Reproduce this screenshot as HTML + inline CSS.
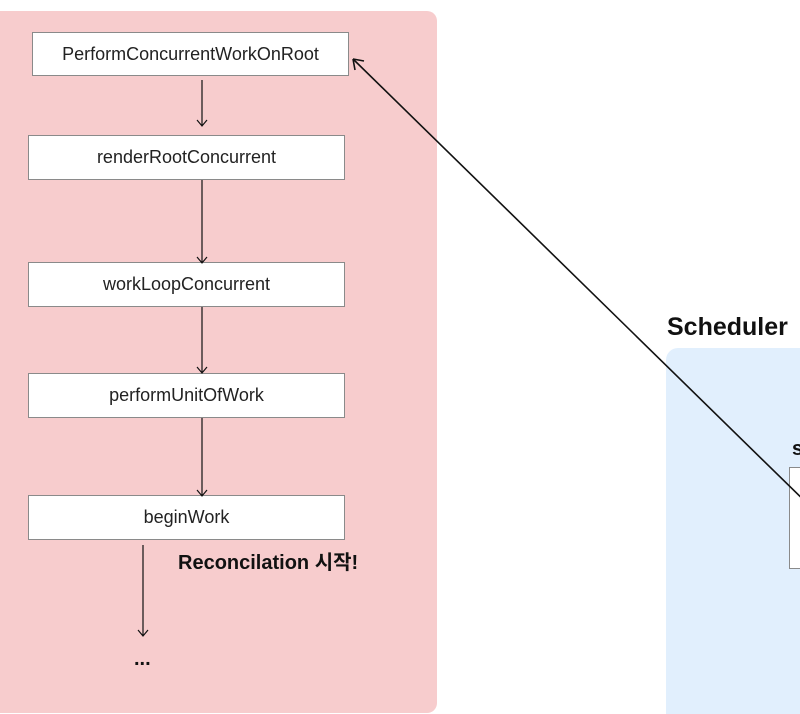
<!DOCTYPE html>
<html style="overflow:hidden;height:714px"><head><style>
body{margin:0;width:800px;height:714px;overflow:hidden;background:#fff;font-family:"Liberation Sans","Noto Sans CJK KR",sans-serif;position:relative}
.p{position:absolute}
.box{position:absolute;background:#fff;border:1px solid #8a8a8a;box-sizing:border-box;display:flex;align-items:center;justify-content:center;font-size:18px;color:#222}
</style></head><body>
<div class="p" style="left:-10px;top:11px;width:447px;height:702px;background:#f7cccd;border-radius:10px"></div>
<div class="p" style="left:666px;top:348px;width:160px;height:366px;background:#e1effd;border-radius:12px 12px 0 0"></div>
<div class="p" style="left:667px;top:313px;font-size:25px;font-weight:bold;color:#111">Scheduler</div>
<div class="p" style="left:792px;top:438px;font-size:20px;font-weight:bold;color:#111">s</div>
<div class="box" style="left:789px;top:467px;width:30px;height:102px"></div>
<div class="box" style="left:32px;top:32px;width:317px;height:44px">PerformConcurrentWorkOnRoot</div>
<div class="box" style="left:28px;top:135px;width:317px;height:45px">renderRootConcurrent</div>
<div class="box" style="left:28px;top:262px;width:317px;height:45px">workLoopConcurrent</div>
<div class="box" style="left:28px;top:373px;width:317px;height:45px">performUnitOfWork</div>
<div class="box" style="left:28px;top:495px;width:317px;height:45px">beginWork</div>
<div class="p" style="left:178px;top:546px;font-size:20px;font-weight:bold;color:#111">Reconcilation 시작!</div>
<div class="p" style="left:134px;top:648px;font-size:20px;font-weight:bold;color:#111">...</div>
<svg class="p" style="left:0;top:0" width="800" height="714">
<g stroke="#111" stroke-width="1.2" fill="none">
<path d="M202 80V125M197 120L202 126L207 120"/>
<path d="M202 180V262M197 257L202 263L207 257"/>
<path d="M202 307V372M197 367L202 373L207 367"/>
<path d="M202 418V495M197 490L202 496L207 490"/>
<path d="M143 545V635M138 630L143 636L148 630"/>
<path d="M353 59L820 516" stroke-width="1.6"/>
<path d="M353 59L355 70M353 59L364 61" stroke-width="1.6"/>
</g></svg>
</body></html>
